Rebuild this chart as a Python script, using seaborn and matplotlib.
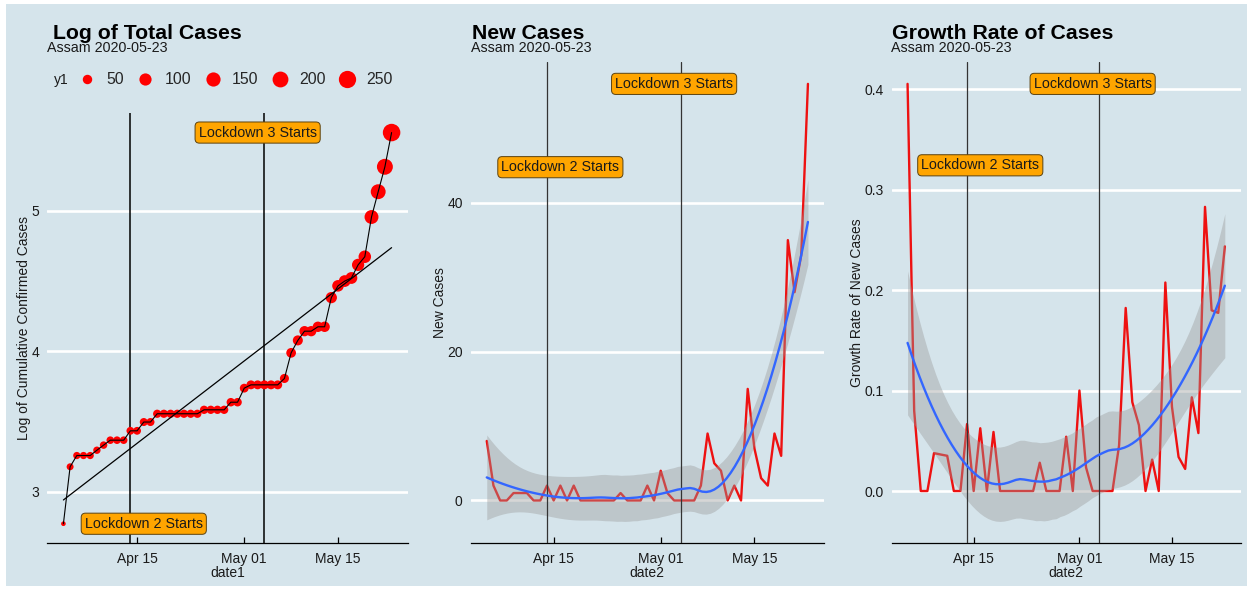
import numpy as np
import pandas as pd
import matplotlib
matplotlib.use("Agg")
import matplotlib.pyplot as plt
import matplotlib.dates as mdates
from matplotlib.patches import Rectangle
import seaborn as sns

# ---------------------------------------------------------------- data
state = "Assam"
as_of = "2020-05-23"
start_date = "2020-04-04"

# cumulative confirmed cases, one value per day starting at start_date
total_cases = [16, 24, 26, 26, 26, 27, 28, 29, 29, 29,
               31, 31, 33, 33, 35, 35, 35, 35, 35, 35,
               35, 36, 36, 36, 36, 38, 38, 42, 43, 43,
               43, 43, 43, 45, 54, 59, 63, 63, 65, 65,
               80, 87, 90, 92, 101, 107, 142, 170, 203, 259]

lockdown_dates = ["2020-04-14", "2020-05-04"]
lockdown_labels = ["Lockdown 2 Starts", "Lockdown 3 Starts"]
label_dates = ["2020-04-16", "2020-05-03"]
tick_dates = ["2020-04-15", "2020-05-01", "2020-05-15"]

titles = ["Log of Total Cases", "New Cases", "Growth Rate of Cases"]
ylabels = ["Log of Cumulative Confirmed Cases", "New Cases", "Growth Rate of New Cases"]
xlabels = ["date1", "date2", "date2"]

# ---------------------------------------------------------------- frames
days = pd.date_range(start_date, periods=len(total_cases), freq="D")
df1 = pd.DataFrame({"date1": mdates.date2num(days), "y1": total_cases})
df1["log_cases"] = np.log(df1["y1"])

df2 = pd.DataFrame({
    "date2": df1["date1"].values[1:],
    "new_cases": np.diff(np.asarray(total_cases, float)),
    "growth": np.diff(np.log(np.asarray(total_cases, float))),
})


def loess_band(x, y, grid, span=0.75):
    """Local quadratic regression (tricube weights) with a 95% band."""
    x = np.asarray(x, float)
    y = np.asarray(y, float)
    n = len(x)
    q = int(np.floor(n * span))

    def row(x0):
        d = np.abs(x - x0)
        h = np.sort(d)[q - 1] * 1.0001
        w = np.clip(1 - (d / h) ** 3, 0, None) ** 3
        X = np.column_stack([np.ones(n), x - x0, (x - x0) ** 2])
        XtW = X.T * w
        return np.linalg.solve(XtW @ X, XtW)[0]

    L = np.array([row(v) for v in x])
    G = np.array([row(v) for v in grid])
    resid = y - L @ y
    M = np.eye(n) - L
    MtM = M.T @ M
    d1 = np.trace(MtM)
    d2 = np.trace(MtM @ MtM)
    sigma = np.sqrt(resid @ resid / d1)
    dof = d1 ** 2 / d2
    z = 1.959964
    t = z + (z ** 3 + z) / (4 * dof) + (5 * z ** 5 + 16 * z ** 3 + 3 * z) / (96 * dof ** 2)
    fit = G @ y
    se = sigma * np.sqrt((G ** 2).sum(axis=1))
    return fit, fit - t * se, fit + t * se


# ---------------------------------------------------------------- style
BG = "#d5e4eb"
sns.set_theme(style="white", rc={
    "axes.facecolor": BG,
    "figure.facecolor": "white",
    "axes.edgecolor": "black",
    "grid.color": "white",
    "grid.linewidth": 1.9,
})
plt.rcParams["font.family"] = ["Liberation Sans", "DejaVu Sans"]

W, H = 1252, 590
fig = plt.figure(figsize=(W / 100, H / 100), dpi=100)
fig.add_artist(Rectangle((6 / W, 4 / H), 1241 / W, 582 / H, transform=fig.transFigure,
                         facecolor=BG, edgecolor="none", zorder=-5))

# panel boxes in pixels: left, right, top, bottom
boxes = [(47, 408, 113, 543.3), (470.7, 824, 62, 543.3), (891.7, 1240.7, 62, 543.3)]
axes = []
for l, r, t, b in boxes:
    ax = fig.add_axes([l / W, 1 - b / H, (r - l) / W, (b - t) / H])
    axes.append(ax)
ax1, ax2, ax3 = axes

label_box = dict(boxstyle="round,pad=0.25,rounding_size=0.3", fc="#FFA500",
                 ec="#5b4210", lw=0.7)


def vlines(ax, color, lw):
    for d in lockdown_dates:
        ax.axvline(mdates.datestr2num(d), color=color, lw=lw, zorder=3)


def pad_limits(lo, hi, frac=0.05):
    r = hi - lo
    return lo - frac * r, hi + frac * r


# ---------------------------------------------------------------- panel 1
lo_c, hi_c = df1["y1"].min(), df1["y1"].max()
d_lo, d_hi = 4.6, 17.5


def _fwd(v):
    tt = np.clip((np.asarray(v, float) - lo_c) / (hi_c - lo_c), 0, None)
    return (d_lo + (d_hi - d_lo) * np.sqrt(tt)) ** 2


def _inv(a):
    tt = ((np.sqrt(np.asarray(a, float)) - d_lo) / (d_hi - d_lo)) ** 2
    return lo_c + tt * (hi_c - lo_c)


size_norm = matplotlib.colors.FuncNorm((_fwd, _inv), vmin=lo_c, vmax=hi_c)

sns.scatterplot(data=df1, x="date1", y="log_cases", size="y1", sizes=(11, 159),
                size_norm=size_norm, color="#ff0000", linewidth=0, ax=ax1,
                legend="brief", zorder=4)
sns.lineplot(data=df1, x="date1", y="log_cases", color="black", lw=0.8, ax=ax1, zorder=5)
sns.regplot(data=df1, x="date1", y="log_cases", scatter=False, ci=None, color="black",
            line_kws=dict(lw=0.9, zorder=5), ax=ax1, truncate=True)
vlines(ax1, "black", 1.1)
ax1.text(mdates.datestr2num(label_dates[0]), df1["log_cases"].min(), lockdown_labels[0],
         ha="center", va="center", fontsize=10.3, color="#1a1a1a", bbox=label_box, zorder=6)
ax1.text(mdates.datestr2num(label_dates[1]), df1["log_cases"].max(), lockdown_labels[1],
         ha="center", va="center", fontsize=10.3, color="#1a1a1a", bbox=label_box, zorder=6)
ax1.set_xlim(*pad_limits(df1["date1"].min(), df1["date1"].max()))
ax1.set_ylim(*pad_limits(df1["log_cases"].min(), df1["log_cases"].max()))
ax1.set_yticks([3, 4, 5])

handles, labels = ax1.get_legend_handles_labels()
ax1.get_legend().remove()
fig.legend(handles, labels, loc="center left", bbox_to_anchor=(78.3 / W, 1 - 80 / H),
           ncol=len(labels), frameon=False, fontsize=11.4, handlelength=1.1,
           handletextpad=0.65, columnspacing=0.82, borderpad=0, borderaxespad=0)
fig.text(61 / W, 1 - 80 / H, "y1", ha="center", va="center", fontsize=10, color="#1a1a1a")

# ---------------------------------------------------------------- panels 2 and 3
for ax, col in [(ax2, "new_cases"), (ax3, "growth")]:
    xs = df2["date2"].values
    grid = np.linspace(xs.min(), xs.max(), 80)
    fit, lo, hi = loess_band(xs, df2[col].values, grid)
    sns.lineplot(data=df2, x="date2", y=col, color="#ee1111", lw=1.7, ax=ax, zorder=2)
    ax.fill_between(grid, lo, hi, color="#999999", alpha=0.4, lw=0, zorder=3)
    vlines(ax, "#333333", 0.9)
    sns.lineplot(x=grid, y=fit, color="#3366FF", lw=1.7, ax=ax, zorder=4)
    top = df2[col].max()
    ax.text(mdates.datestr2num(label_dates[0]), 0.8 * top, lockdown_labels[0],
            ha="center", va="center", fontsize=10.3, color="#1a1a1a", bbox=label_box, zorder=6)
    ax.text(mdates.datestr2num(label_dates[1]), top, lockdown_labels[1],
            ha="center", va="center", fontsize=10.3, color="#1a1a1a", bbox=label_box, zorder=6)
    ax.set_xlim(*pad_limits(xs.min(), xs.max()))
    ax.set_ylim(*pad_limits(min(lo.min(), df2[col].min()), max(hi.max(), top)))

ax2.set_yticks([0, 20, 40])
ax3.set_yticks([0.0, 0.1, 0.2, 0.3, 0.4])
ax3.yaxis.set_major_formatter(matplotlib.ticker.FormatStrFormatter("%.1f"))

# ---------------------------------------------------------------- shared styling
label_x = [-0.044, -0.066, -0.080]
title_x = [53, 471.7, 891.7]
sub_x = [47, 471, 891]
for i, ax in enumerate(axes):
    ax.set_xticks(mdates.datestr2num(tick_dates))
    ax.xaxis.set_major_formatter(mdates.DateFormatter("%b %d"))
    ax.grid(axis="y", color="white", lw=1.9)
    ax.grid(axis="x", visible=False)
    ax.set_axisbelow(True)
    for s in ["left", "top", "right"]:
        ax.spines[s].set_visible(False)
    ax.spines["bottom"].set_color("black")
    ax.spines["bottom"].set_linewidth(0.9)
    ax.tick_params(axis="x", direction="in", length=4.3, width=0.9, color="black",
                   pad=6, labelsize=10, labelcolor="#1a1a1a", bottom=True)
    ax.tick_params(axis="y", length=0, pad=5.8, labelsize=10, labelcolor="#1a1a1a")
    ax.set_xlabel(xlabels[i], fontsize=10, color="#1a1a1a", labelpad=0)
    ax.set_ylabel(ylabels[i], fontsize=10, color="#1a1a1a")
    ax.yaxis.set_label_coords(label_x[i], 0.5)
    fig.text(title_x[i] / W, 1 - 39.3 / H, titles[i], fontsize=15.3, fontweight="bold",
             ha="left", va="baseline", color="black")
    fig.text(sub_x[i] / W, 1 - 52.3 / H, f"{state} {as_of}", fontsize=10.3,
             ha="left", va="baseline", color="#1a1a1a")

fig.savefig("out.png", dpi=100)
